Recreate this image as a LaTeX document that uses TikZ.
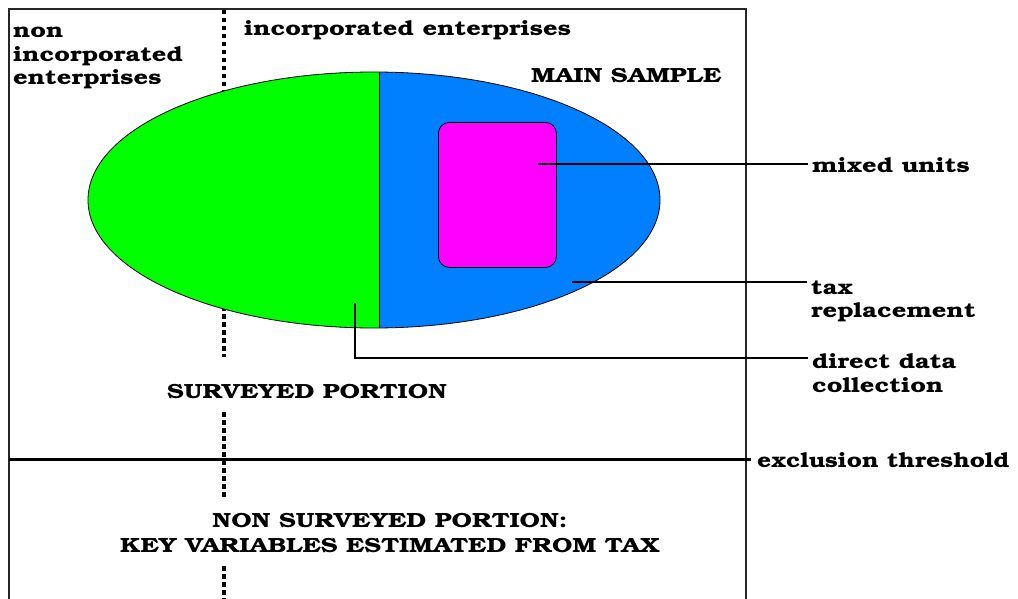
\documentclass[tikz,border=0pt]{standalone}
\usepackage[T1]{fontenc}
\usepackage{fontspec}
\usepackage{graphicx}
\setmainfont{Liberation Serif}
\usetikzlibrary{shapes.geometric}
\newcommand\bookdemi{\fontencoding{T1}\fontfamily{pbk}\fontseries{b}\selectfont}
% Bookman set a little wider than its natural width
\newcommand\widen[1]{\scalebox{1.24}[1]{#1}}
\definecolor{grn}{RGB}{0,255,0}
\definecolor{blu}{RGB}{0,128,255}
\definecolor{pnk}{RGB}{255,0,255}
\begin{document}
\begin{tikzpicture}[x=1pt,y=-1pt,
  txt/.style={font={\bookdemi\fontsize{20.5}{23.5}\selectfont}, inner sep=0pt, align=left},
  ctxt/.style={font={\bookdemi\fontsize{20.5}{25}\selectfont}, inner sep=0pt, align=center},
  leader/.style={line width=2pt},
  frame/.style={line width=1.1pt, draw=black!85},
  dots/.style={line width=3.6pt, dash pattern=on 4.5pt off 3.5pt},
]
\useasboundingbox (0,0) rectangle (1018,599);

% outer frame, open at the bottom
\draw[frame] (9,599) -- (9,9) -- (746,9) -- (746,599);

% dotted divider between non incorporated and incorporated enterprises
\draw[dots] (224,10) -- (224,357);
\draw[dots] (224,412) -- (224,500);
\draw[dots] (224,566) -- (224,599);

% exclusion threshold
\node[txt, anchor=base west] (lexcl) at (757,467) {\scalebox{1.2}[1]{exclusion threshold}};
\coordinate (thl) at (9,459);
\draw[line width=3pt] (thl) -- ([xshift=-6pt]lexcl.west |- thl);

% main sample: green and blue halves of the ellipse
\node[ellipse, draw, line width=0.8pt, fill=blu, minimum width=572pt, minimum height=256pt, inner sep=0pt,
  path picture={
    \fill[grn] (path picture bounding box.south west) rectangle ([xshift=5pt]path picture bounding box.north);
    \draw[line width=1pt] ([xshift=5pt]path picture bounding box.south) -- ([xshift=5pt]path picture bounding box.north);
  }] (sample) at (374,200) {};

% mixed units
\node[draw, line width=0.8pt, fill=pnk, rounded corners=11pt, minimum width=118pt, minimum height=145pt,
  inner sep=0pt, anchor=north west] (mixed) at (438,122) {};

% labels
\node[txt, anchor=north west] (lnon) at (13,27) {\widen{non}\\\widen{incorporated}\\\widen{enterprises}};
\node[txt, anchor=base west] (linc) at (244,36) {\widen{incorporated enterprises}};
\node[txt, anchor=base west] (lmain) at (531,83) {\widen{MAIN SAMPLE}};
\node[txt, anchor=base west] (lmixed) at (812,173) {\widen{mixed units}};
\node[txt, anchor=north west] (ltax) at (811,280) {\widen{tax}\\\widen{replacement}};
\node[txt, anchor=north west] (ldirect) at (812,354) {\widen{direct data}\\\widen{collection}};
\node[ctxt] (lsurv) at (307,391) {\widen{SURVEYED PORTION}};
\node[ctxt] (lnonsurv) at (390,533) {\widen{NON SURVEYED PORTION:}\\\widen{KEY VARIABLES ESTIMATED FROM TAX}};

% leader lines
\coordinate (mx) at (538,164);
\draw[leader] (mx) -- ([xshift=-4pt]lmixed.west |- mx);
\coordinate (tx) at (572,282);
\draw[leader] (tx) -- ([xshift=-4pt]ltax.west |- tx);
\coordinate (dx) at (355,303);
\coordinate (dc) at (355,358);
\draw[leader] (dx) -- (dc) -- ([xshift=-4pt]ldirect.west |- dc);
\end{tikzpicture}
\end{document}
